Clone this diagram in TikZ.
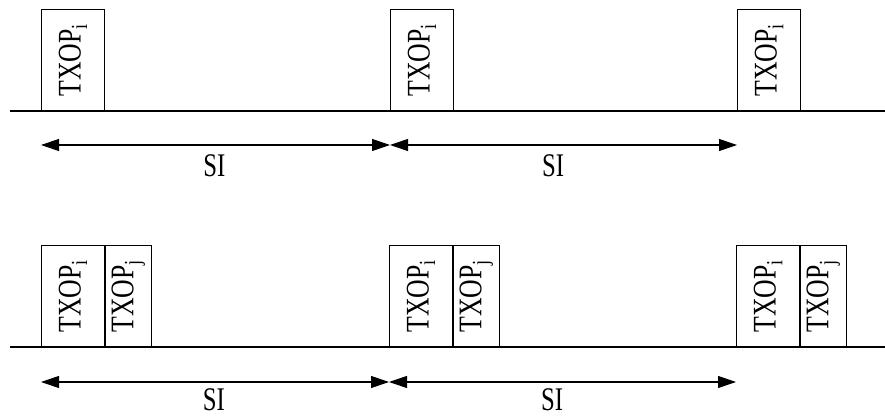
\documentclass[tikz,border=0pt]{standalone}
\usepackage{fontspec}
\setmainfont{Liberation Serif}
\usetikzlibrary{arrows.meta}

\newcommand{\txop}[1]{\rotatebox{90}{\scalebox{0.78}[1]{\fontsize{33}{33}\selectfont TXOP\textsubscript{#1}}}}
\newcommand{\silab}{\scalebox{0.75}[1]{\fontsize{33}{33}\selectfont SI}}

\begin{document}
\begin{tikzpicture}[x=1pt,y=1pt,line cap=butt,line join=miter,
  slot/.style={draw,line width=0.9pt,inner sep=0pt,minimum height=101pt,anchor=south west},
  slotI/.style={slot,minimum width=63pt},
  slotJ/.style={slot,minimum width=46pt},
  si/.style={line width=1.1pt,{Triangle[length=18pt,width=12pt]}-{Triangle[length=18pt,width=12pt]}},
  silabel/.style={below=9pt,inner sep=0pt,text height=21.5pt,text depth=0pt}]
\useasboundingbox (0,0) rectangle (885,417);
% upper row: one TXOP per service interval
\coordinate (ua) at (10,306);
\coordinate (ub) at (885,306);
\node[slotI] (ui1) at (41,306) {\txop{i}};
\node[slotI] (ui2) at (390,306) {\txop{i}};
\node[slotI] (ui3) at (737,306) {\txop{i}};
\draw[line width=1.1pt] (ua) -- (ub);
\draw[si] (ui1.south west |- 0,272) -- (ui2.south west |- 0,272) node[silabel,pos=0.497] (us1) {\silab};
\draw[si] (ui2.south west |- 0,272) -- (ui3.south west |- 0,272) node[silabel,pos=0.47] (us2) {\silab};
% lower row: TXOP i followed by TXOP j
\coordinate (la) at (10,70);
\coordinate (lb) at (885,70);
\node[slotI] (li1) at (41,70) {\txop{i}};
\node[slotJ] (lj1) at (li1.south east) {\txop{j}};
\node[slotI] (li2) at (389,70) {\txop{i}};
\node[slotJ] (lj2) at (li2.south east) {\txop{j}};
\node[slotI] (li3) at (736,70) {\txop{i}};
\node[slotJ] (lj3) at (li3.south east) {\txop{j}};
\draw[line width=1.1pt] (la) -- (lb);
\draw[si] (li1.south west |- 0,35) -- (li2.south west |- 0,35) node[silabel,yshift=3pt,pos=0.497] (ls1) {\silab};
\draw[si] (li2.south west |- 0,35) -- (li3.south west |- 0,35) node[silabel,yshift=3pt,pos=0.47] (ls2) {\silab};
\end{tikzpicture}
\end{document}
